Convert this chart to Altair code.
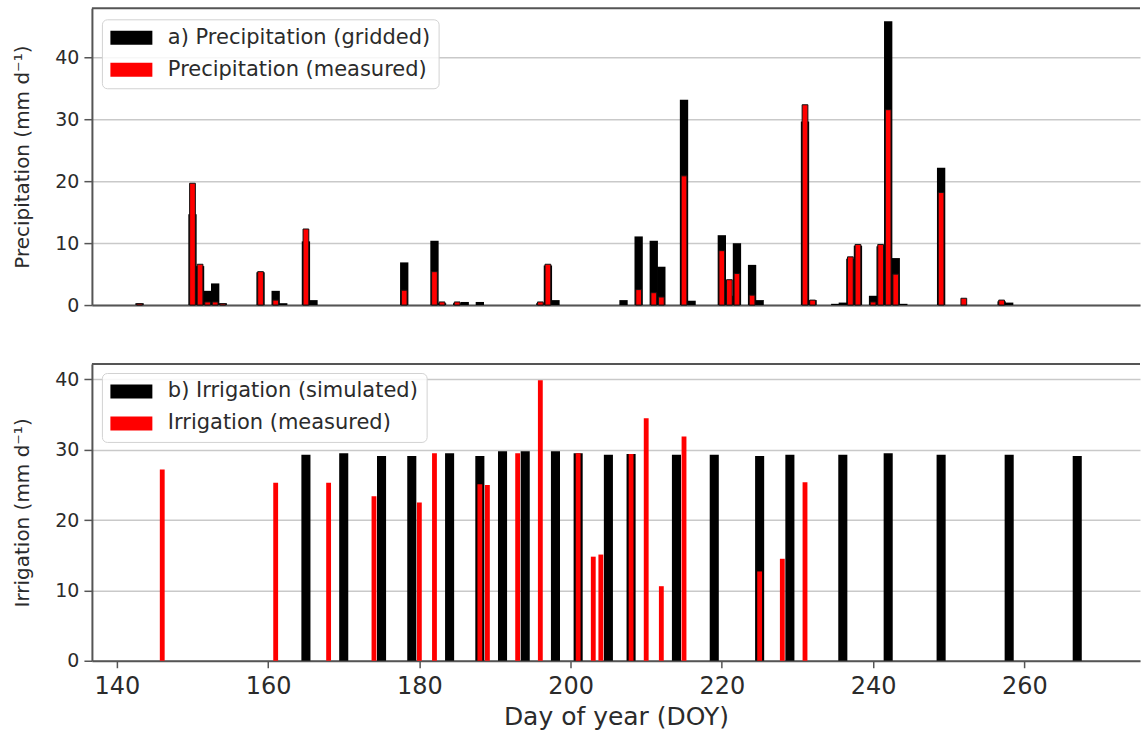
import altair as alt
import pandas as pd

# ---- precipitation (panel a) ----
precip_days = [143, 150, 151, 152, 153, 154, 159, 161, 162, 165, 166, 178, 182, 183,
               185, 186, 188, 196, 197, 198, 207, 209, 211, 212, 215, 216, 220, 221,
               222, 224, 225, 231, 232, 235, 236, 237, 238, 240, 241, 242, 243, 244,
               249, 252, 257, 258]
precip_gridded = [0.3, 14.7, 6.3, 2.3, 3.5, 0.3, 5.3, 2.3, 0.3, 10.3, 0.8, 6.9, 10.4, 0.3,
                  0.3, 0.5, 0.5, 0.3, 6.4, 0.8, 0.8, 11.1, 10.4, 6.2, 33.2, 0.7, 11.3, 1.5,
                  10.0, 6.5, 0.8, 29.7, 0.8, 0.2, 0.4, 7.5, 9.6, 1.5, 9.5, 45.9, 7.6, 0.2,
                  22.2, 0.0, 0.6, 0.4]
precip_measured = [0.2, 19.7, 6.6, 0.5, 0.5, 0.2, 5.4, 0.8, 0.0, 12.3, 0.0, 2.4, 5.4, 0.5,
                   0.5, 0.0, 0.0, 0.5, 6.6, 0.0, 0.0, 2.5, 2.0, 1.3, 20.9, 0.0, 8.8, 4.1,
                   5.1, 1.6, 0.0, 32.4, 0.8, 0.0, 0.0, 7.8, 9.8, 0.5, 9.8, 31.6, 5.0, 0.0,
                   18.2, 1.1, 0.8, 0.0]

# ---- irrigation (panel b) ----
irr_sim_days = [165, 170, 175, 179, 184, 188, 191, 194, 198, 201, 205, 208, 214, 219,
                225, 229, 236, 242, 249, 258, 267]
irr_sim = [29.3, 29.5, 29.1, 29.1, 29.5, 29.1, 29.8, 29.8, 29.8, 29.5, 29.3, 29.4, 29.3,
           29.3, 29.1, 29.3, 29.3, 29.5, 29.3, 29.3, 29.1]
irr_meas_days = [146, 161, 168, 174, 180, 182, 188, 189, 193, 196, 201, 203, 204, 208,
                 210, 212, 215, 225, 228, 231]
irr_meas = [27.2, 25.3, 25.3, 23.4, 22.5, 29.5, 25.1, 25.0, 29.5, 39.9, 29.5, 14.8, 15.1,
            29.4, 34.5, 10.6, 31.9, 12.7, 14.5, 25.4]

x_ticks = [140, 160, 180, 200, 220, 240, 260]
y_ticks = [0, 10, 20, 30, 40]

LBL_G = "a) Precipitation (gridded)"
LBL_PM = "Precipitation (measured)"
LBL_S = "b) Irrigation (simulated)"
LBL_IM = "Irrigation (measured)"

X_DOMAIN = [136.7, 275.3]
W, H = 1049, 297
FONT = "DejaVu Sans"
INK = "#2b2b2b"
FRAME = "#555555"
GRID = "#c9c9c9"


def series_frame(days, values, label):
    return pd.DataFrame({"day": days, "value": values, "series": label})


def x_enc(show_axis):
    if show_axis:
        axis = alt.Axis(values=x_ticks, format="d", grid=False, tickSize=7, tickWidth=1.5,
                        tickColor=FRAME, domainColor=FRAME, domainWidth=2,
                        labelFont=FONT, labelFontSize=24, labelColor=INK, labelPadding=7,
                        title="Day of year (DOY)", titleFont=FONT, titleFontSize=25,
                        titleFontWeight="normal", titleColor=INK, titlePadding=6)
    else:
        axis = alt.Axis(labels=False, ticks=False, grid=False, domainColor=FRAME,
                        domainWidth=2, title=None)
    return alt.X("x0:Q", scale=alt.Scale(domain=X_DOMAIN, nice=False, zero=False), axis=axis)


def y_enc(ymax, title):
    return alt.Y("value:Q", scale=alt.Scale(domain=[0, ymax], nice=False),
                 axis=alt.Axis(values=y_ticks, grid=True, gridColor=GRID, gridWidth=1.5,
                               tickSize=8, tickWidth=1.5, tickColor=FRAME,
                               domainColor=FRAME, domainWidth=2,
                               labelFont=FONT, labelFontSize=19, labelColor=INK, labelPadding=5,
                               title=title, titleFont=FONT, titleFontSize=20,
                               titleFontWeight="normal", titleColor=INK, titlePadding=22))


def color_enc(labels, ly):
    # wide flat patch: the path is three times wider than the nominal symbol size
    return alt.Color("series:N", scale=alt.Scale(domain=labels, range=["black", "red"]),
                     legend=alt.Legend(title=None, orient="none", legendX=10, legendY=ly,
                                       symbolType="M-3,-1H3V1H-3Z", symbolSize=196,
                                       symbolOffset=11, symbolStrokeWidth=0, symbolOpacity=1,
                                       labelFont=FONT, labelFontSize=21, labelColor=INK,
                                       labelOffset=26, rowPadding=10, labelLimit=500,
                                       fillColor="rgba(255,255,255,0.85)", strokeColor="#d2d2d2",
                                       cornerRadius=5, padding=8))


def bar_layer(df, half, labels, ymax, ytitle, show_x, ly, stroke=None):
    base = alt.Chart(df).transform_filter("datum.value > 0").transform_calculate(
        x0=f"datum.day - {half}", x1=f"datum.day + {half}")
    if stroke:
        m = base.mark_bar(stroke=stroke, strokeWidth=1)
    else:
        m = base.mark_bar()
    return m.encode(x=x_enc(show_x), x2="x1:Q", y=y_enc(ymax, ytitle), y2=alt.datum(0),
                    color=color_enc(labels, ly))


def top_edge():
    return alt.Chart(pd.DataFrame({"edge": [0]})).mark_rule(
        color=FRAME, strokeWidth=2).encode(y=alt.value(0))


P_YMAX = 48.0
I_YMAX = 42.2
p_title = "Precipitation (mm d⁻¹)"
i_title = "Irrigation (mm d⁻¹)"

top = alt.layer(
    bar_layer(series_frame(precip_days, precip_gridded, LBL_G), 0.55, [LBL_G, LBL_PM],
              P_YMAX, p_title, False, 11),
    bar_layer(series_frame(precip_days, precip_measured, LBL_PM), 0.38, [LBL_G, LBL_PM],
              P_YMAX, p_title, False, 11, stroke="#111111"),
    top_edge(),
).properties(width=W, height=H)

bottom = alt.layer(
    bar_layer(series_frame(irr_sim_days, irr_sim, LBL_S), 0.6, [LBL_S, LBL_IM],
              I_YMAX, i_title, True, 9),
    bar_layer(series_frame(irr_meas_days, irr_meas, LBL_IM), 0.32, [LBL_S, LBL_IM],
              I_YMAX, i_title, True, 9),
    top_edge(),
).properties(width=W, height=H)

chart = alt.vconcat(top, bottom, spacing=48).resolve_scale(color="independent").properties(
    padding={"left": 12, "top": 7, "right": 0, "bottom": 0},
    background="white",
).configure_view(stroke=None)

chart.save("out.html", embed_options={"renderer": "svg", "actions": False})
